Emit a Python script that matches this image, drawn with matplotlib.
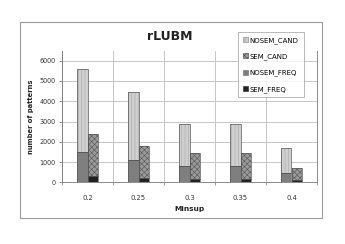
import numpy as np
import matplotlib.pyplot as plt
from matplotlib.patches import Patch, Rectangle

# data
minsup = ['0.2', '0.25', '0.3', '0.35', '0.4']
nosem_freq = [1500, 1100, 805, 790, 475]
nosem_cand_top = [5600, 4470, 2875, 2875, 1680]
sem_freq = [300, 230, 180, 180, 100]
sem_cand_top = [2380, 1790, 1430, 1430, 690]

nosem_cand = np.array(nosem_cand_top) - np.array(nosem_freq)
sem_cand = np.array(sem_cand_top) - np.array(sem_freq)

plt.rcParams['font.family'] = 'DejaVu Sans'
plt.rcParams['hatch.linewidth'] = 0.4

fig = plt.figure(figsize=(3.45, 2.44), dpi=100)
fig.patches.append(Rectangle((20/345, 1-218/244), 302/345, 196/244, transform=fig.transFigure,
                             fill=False, edgecolor='#9a9a9a', linewidth=0.8))
ax = fig.add_axes([62/345, 1-182.3/244, 255/345, 131.3/244])

x = np.arange(len(minsup))
w = 0.2
edge = '#555555'

def layer(xs, h, b, fc, hatch=None, hc=None):
    ax.bar(xs, h, w, bottom=b, color=fc, linewidth=0, zorder=3)
    if hatch:
        ax.bar(xs, h, w, bottom=b, facecolor='none', edgecolor=hc, hatch=hatch,
               linewidth=0, zorder=4)
    ax.bar(xs, h, w, bottom=b, facecolor='none', edgecolor=edge, linewidth=0.5, zorder=5)

layer(x - w/2, nosem_freq, 0, '#7f7f7f')
layer(x - w/2, nosem_cand, nosem_freq, '#cfcfcf', '|||||', '#a8a8a8')
layer(x + w/2, sem_freq, 0, '#222222')
layer(x + w/2, sem_cand, sem_freq, '#9a9a9a', 'xxxxxx', '#555555')

ax.set_xlim(-0.5, 4.5)
ax.set_ylim(0, 6480)
ax.set_yticks([0, 1000, 2000, 3000, 4000, 5000, 6000])
ax.set_xticks(x)
ax.set_xticklabels(minsup)
ax.set_xticks(np.arange(-0.5, 5, 1), minor=True)
ax.tick_params(axis='x', which='major', length=0, labelsize=4.9, pad=9, colors='#333333')
ax.tick_params(axis='x', which='minor', length=2, color='#888888')
ax.tick_params(axis='y', length=2.5, width=0.5, labelsize=4.7, pad=2, color='#666666',
               labelcolor='#333333')
ax.grid(axis='y', color='#bdbdbd', linewidth=0.6, zorder=0)
ax.grid(axis='x', which='minor', color='#bdbdbd', linewidth=0.6, zorder=0)
ax.set_axisbelow(True)
ax.spines['top'].set_visible(False)
for s in ['left', 'right', 'bottom']:
    ax.spines[s].set_color('#777777')
    ax.spines[s].set_linewidth(0.6)

ax.set_ylabel('number of patterns', fontsize=4.9, fontweight='bold', labelpad=4, color='#222222')
ax.set_xlabel('Minsup', fontsize=5.3, fontweight='bold', labelpad=4, color='#222222')
fig.text(170/345, 1-36/244, 'rLUBM', fontsize=9, fontweight='bold', ha='center', va='center',
         color='#222222')

handles = [
    Patch(facecolor='#cfcfcf', edgecolor='#888888', hatch='|||||', linewidth=0.4),
    Patch(facecolor='#9a9a9a', edgecolor='#444444', hatch='xxxxxx', linewidth=0.4),
    Patch(facecolor='#7f7f7f', edgecolor='#666666', linewidth=0.4),
    Patch(facecolor='#222222', edgecolor='#222222', linewidth=0.4),
]
leg = ax.legend(handles, ['NOSEM_CAND', 'SEM_CAND', 'NOSEM_FREQ', 'SEM_FREQ'],
                loc='upper left', bbox_to_anchor=(238/345, 1-32/244), bbox_transform=fig.transFigure,
                fontsize=5.0, labelspacing=1.38, handlelength=0.7, handleheight=0.7,
                handletextpad=0.3, borderpad=0.7, frameon=True, fancybox=False,
                borderaxespad=0)
leg.get_frame().set_edgecolor('#999999')
leg.get_frame().set_linewidth(0.6)
leg.set_zorder(10)

fig.savefig('out.png', dpi=100)
